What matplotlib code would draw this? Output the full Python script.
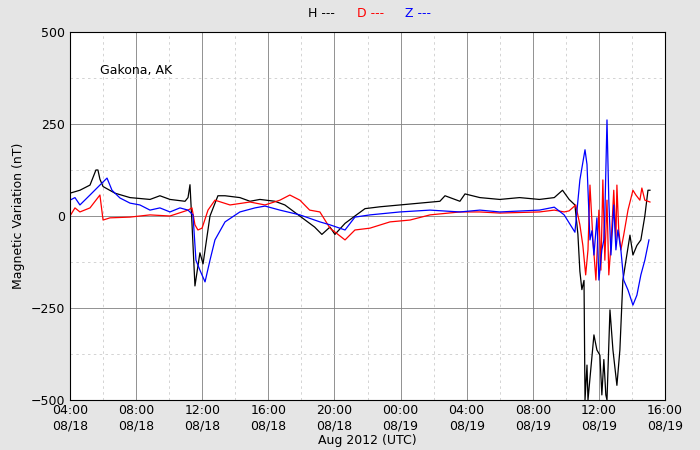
import numpy as np
import matplotlib
matplotlib.use("Agg")
import matplotlib.pyplot as plt
from matplotlib.ticker import MultipleLocator

# hours since 04:00 08/18 (UTC), values in nT
h_t = [0, .6, 1.21, 1.57, 1.69, 1.81, 2.0, 2.72, 3.63, 4.84, 5.44, 6.05, 6.96, 7.14, 7.26, 7.38, 7.56,
       7.86, 8.05, 8.47, 8.95, 9.38, 10.28, 10.89, 11.49, 12.4, 13.0, 13.6, 14.2, 14.8, 15.24, 15.73,
       16.03, 16.64, 17.24, 17.85, 18.75, 19.96, 21.17, 22.38, 22.69, 23.59, 23.9, 24.8, 26.0, 27.2,
       28.4, 29.3, 29.8, 30.2, 30.55, 30.73, 30.85, 30.97, 31.1, 31.16, 31.28, 31.34, 31.7, 31.88,
       32.06, 32.18, 32.3, 32.42, 32.49, 32.67, 32.85, 33.09, 33.27, 33.45, 33.64, 33.88, 34.06,
       34.3, 34.54, 34.78, 34.97, 35.09]
h_v = [62, 70, 84, 125, 125, 100, 80, 62, 50, 45, 55, 45, 40, 50, 85, -20, -190,
       -100, -130, 0, 55, 55, 50, 40, 45, 40, 30, 10, -10, -30, -50, -30,
       -50, -20, 0, 20, 25, 30, 35, 40, 55, 40, 60, 50, 45, 50,
       45, 50, 70, 45, 30, -50, -150, -200, -175, -500, -405, -500, -323, -364,
       -378, -486, -390, -486, -500, -255, -364, -460, -364, -175, -120, -52, -106,
       -80, -65, 0, 70, 70]

d_t = [0, .3, .6, 1.21, 1.81, 2.0, 2.42, 3.63, 4.84, 6.05, 7.14, 7.38, 7.56, 7.74, 7.99, 8.35, 8.77,
       9.68, 10.89, 11.8, 12.7, 13.3, 13.91, 14.5, 15.12, 15.73, 16.64, 17.24, 18.15, 19.36, 20.57,
       21.78, 23.59, 24.8, 26.0, 28.4, 29.3, 29.9, 30.2, 30.6, 30.85, 31.03, 31.2, 31.34, 31.46,
       31.64, 31.82, 32.0, 32.12, 32.24, 32.36, 32.49, 32.6, 32.73, 32.9, 33.03, 33.09, 33.2, 33.33,
       33.5, 33.76, 34.06, 34.24, 34.48, 34.6, 34.78, 35.09]
d_v = [0, 22, 11, 22, 57, -11, -5, -3, 3, 0, 16, 22, -24, -38, -33, 16, 43,
       30, 38, 30, 43, 57, 43, 16, 11, -33, -65, -38, -33, -16, -11,
       3, 11, 11, 8, 11, 16, 11, 14, 30, -24, -80, -160, -92, 84,
       -65, -174, 16, -147, 98, -120, 43, -160, -79, 70, -65, 84, -38, -92,
       -52, 16, 70, 57, 43, 76, 43, 38]

z_t = [0, .3, .6, 1.21, 1.81, 2.24, 2.54, 3.02, 3.63, 4.23, 4.84, 5.44, 6.05, 6.65, 7.14, 7.44, 7.62,
       7.86, 8.17, 8.47, 8.77, 9.38, 10.28, 11.19, 11.8, 12.7, 13.91, 15.12, 15.73, 16.64, 17.24,
       18.15, 19.96, 21.78, 23.59, 24.8, 26.0, 28.4, 29.3, 29.9, 30.55, 30.85, 31.16, 31.28, 31.46,
       31.58, 31.7, 31.88, 32.0, 32.18, 32.3, 32.36, 32.49, 32.6, 32.73, 32.9, 33.03, 33.15, 33.33,
       33.5, 33.76, 34.06, 34.3, 34.54, 34.78, 35.03]
z_v = [43, 50, 30, 57, 84, 103, 70, 49, 35, 30, 16, 22, 11, 22, 16, 3, -120,
       -147, -179, -120, -65, -16, 11, 22, 27, 16, 3, -16, -24, -38, -3,
       3, 11, 16, 11, 16, 11, 16, 24, 3, -44, 98, 180, 140, -65,
       -40, -106, -5, -174, -92, -65, 3, 261, 43, -106, 30, -92, -38, -92,
       -174, -201, -242, -215, -160, -120, -65]

title = "Gakona, AK"
tick_lbls = ["04:00\n08/18", "08:00\n08/18", "12:00\n08/18", "16:00\n08/18", "20:00\n08/18",
             "00:00\n08/19", "04:00\n08/19", "08:00\n08/19", "12:00\n08/19", "16:00\n08/19"]

fig = plt.figure(figsize=(7, 4.5), dpi=100, facecolor="#e5e5e5")
ax = fig.add_axes([0.1, 0.111, 0.85, 0.818])
ax.plot(h_t, h_v, color="black", lw=0.9)
ax.plot(d_t, d_v, color="red", lw=0.9)
ax.plot(z_t, z_v, color="blue", lw=0.9)

ax.set_xlim(0, 36)
ax.set_ylim(-500, 500)
ax.set_xticks(np.arange(0, 37, 4))
ax.set_xticklabels(tick_lbls)
ax.xaxis.set_minor_locator(MultipleLocator(2))
ax.set_yticks([-500, -250, 0, 250, 500])
ax.set_yticklabels(["\u2212500", "\u2212250", "0", "250", "500"])
ax.yaxis.set_minor_locator(MultipleLocator(125))
ax.grid(which="major", color="#808080", lw=0.6)
ax.grid(which="minor", color="#cccccc", lw=0.6, ls=(0, (3, 4)))
ax.set_axisbelow(True)
ax.tick_params(which="both", direction="in", length=0, labelsize=9)
ax.tick_params(axis="x", pad=3)
ax.set_xlabel("Aug 2012 (UTC)", fontsize=9, labelpad=1)
ax.set_ylabel("Magnetic Variation (nT)", fontsize=9)
ax.text(0.05, 0.885, title, transform=ax.transAxes, fontsize=9)

fig.text(0.44, 0.962, "H ---", color="black", fontsize=9)
fig.text(0.51, 0.962, "D ---", color="red", fontsize=9)
fig.text(0.578, 0.962, "Z ---", color="blue", fontsize=9)

fig.savefig("out.png", facecolor=fig.get_facecolor())
